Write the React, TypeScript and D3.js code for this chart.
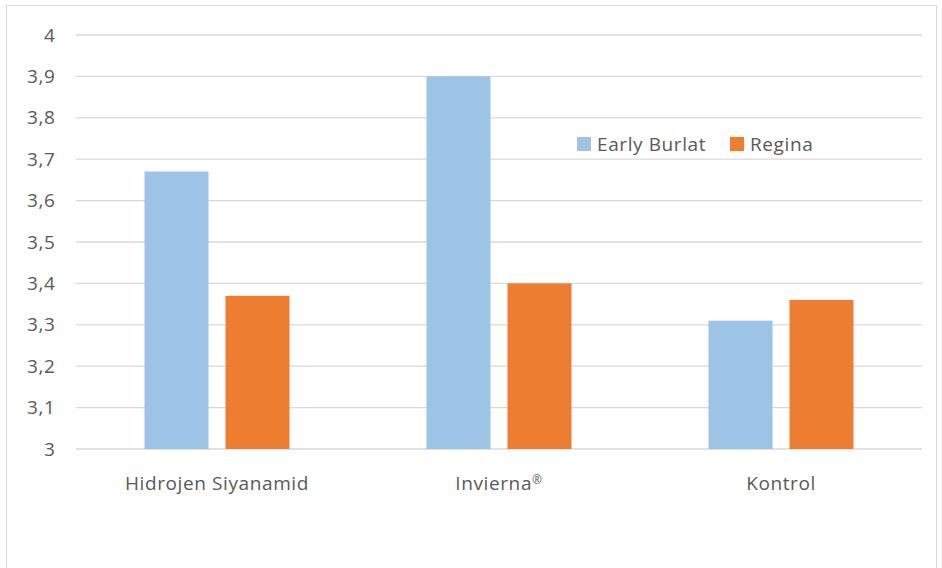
import React from "react";
import * as d3 from "d3";

const categories = ["Hidrojen Siyanamid", "Invierna", "Kontrol"];
const categorySuffix = ["", "®", ""];
const seriesNames = ["Early Burlat", "Regina"];
const earlyBurlat = [3.67, 3.9, 3.31];
const regina = [3.37, 3.4, 3.36];
const yTicks = [3, 3.1, 3.2, 3.3, 3.4, 3.5, 3.6, 3.7, 3.8, 3.9, 4];
const colors = ["#9dc3e6", "#ed7d31"];

const W = 942;
const H = 568;
const FONT = "'Open Sans', 'Noto Sans', sans-serif";

export default function App() {
  const left = 76, right = 922, top = 35, bottom = 449;
  const x0 = d3.scaleBand<string>().domain(categories).range([left, right]).paddingInner(0).paddingOuter(0);
  const y = d3.scaleLinear().domain([3, 4]).range([bottom, top]);
  const barW = 64;
  const gap = 17;
  const series = [earlyBurlat, regina];
  const fmt = (v: number) => (Number.isInteger(v) ? String(v) : v.toFixed(1).replace(".", ","));

  return (
    <svg width={W} height={H} style={{ position: "absolute", left: 0, top: 0, background: "#fff" }}>
      <rect x={6.5} y={5.5} width={930} height={570} fill="#fff" stroke="#d9d9d9" strokeWidth={1} />
      {yTicks.map((t) => (
        <g key={t}>
          <line x1={left} x2={right} y1={y(t)} y2={y(t)} stroke="#d9d9d9" strokeWidth={1.3} />
          <text x={55.5} y={y(t)} dy="0.35em" textAnchor="end" fontFamily={FONT} fontSize={19} letterSpacing={0.6} fill="#595959">
            {fmt(t)}
          </text>
        </g>
      ))}
      {categories.map((c, i) => {
        const cx = (x0(c) as number) + x0.bandwidth() / 2;
        const groupW = barW * 2 + gap;
        return (
          <g key={c}>
            {series.map((s, j) => {
              const bx = cx - groupW / 2 + j * (barW + gap);
              return (
                <rect key={j} x={bx} y={y(s[i])} width={barW} height={y(3) - y(s[i])} fill={colors[j]} />
              );
            })}
            <text x={cx} y={483} dy="0.35em" textAnchor="middle" fontFamily={FONT} fontSize={19} letterSpacing={0.6} fill="#595959">
              {c}
              {categorySuffix[i] && (
                <tspan fontSize={12} dy="-0.45em">{categorySuffix[i]}</tspan>
              )}
            </text>
          </g>
        );
      })}
      <g>
        {seriesNames.map((n, j) => {
          const lx = [577, 730][j];
          return (
            <g key={n}>
              <rect x={lx} y={137} width={14} height={14} fill={colors[j]} />
              <text x={lx + 20} y={144} dy="0.35em" fontFamily={FONT} fontSize={19} letterSpacing={0.6} fill="#595959">
                {n}
              </text>
            </g>
          );
        })}
      </g>
    </svg>
  );
}
